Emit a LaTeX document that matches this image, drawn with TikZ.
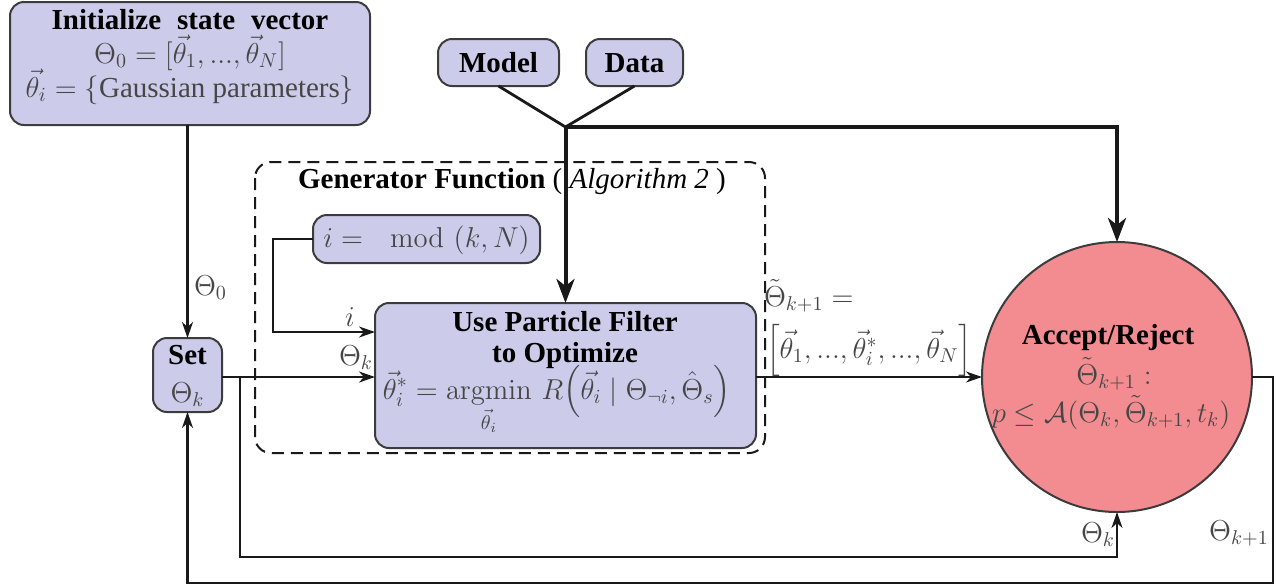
\documentclass[tikz,border=0pt]{standalone}
\usepackage{amsmath,amssymb}
\usepackage[no-math]{fontspec}
\setmainfont{Liberation Serif}
\usetikzlibrary{arrows.meta,calc}
\definecolor{lav}{RGB}{204,204,234}
\definecolor{pinkc}{RGB}{242,140,145}
\definecolor{bordc}{RGB}{60,60,60}
\definecolor{mathc}{RGB}{70,70,70}
\definecolor{linec}{RGB}{25,25,25}
\newcommand\myfs{\fontsize{14.5}{17}\selectfont}
\begin{document}
\begin{tikzpicture}[x=0.5pt,y=-0.5pt,
  every node/.style={font=\myfs, inner sep=0pt, outer sep=0pt},
  box/.style={draw=bordc, line width=1pt, fill=lav, rounded corners=7pt},
  txt/.style={anchor=base, text=black},
  mth/.style={anchor=base, text=mathc},
  conn/.style={line width=1.1pt, draw=linec, -{Stealth[length=8pt,width=5.5pt,inset=2.5pt]}},
  thickconn/.style={line width=2pt, draw=linec, -{Stealth[length=12pt,width=9pt,inset=3.5pt]}},
  thickline/.style={line width=2pt, draw=linec},
  medline/.style={line width=1.4pt, draw=linec},
  dashbox/.style={draw=linec, line width=1pt, dash pattern=on 6pt off 3.5pt, rounded corners=8pt}]
\useasboundingbox (0,0) rectangle (1285,586);

% generator function dashed region
\draw[dashbox] (255,162) rectangle (765,453);
\node[txt] (gtitle) at (512,188) {\textbf{Generator Function} ( \textit{Algorithm 2} )};

% boxes
\node[box, minimum width=180pt, minimum height=61.5pt] (init) at (190,63.5) {};
\node[box, minimum width=60.5pt, minimum height=23.5pt] (model) at (498.5,62.5) {};
\node[box, minimum width=48.5pt, minimum height=23.5pt] (data) at (634.5,62.5) {};
\node[box, minimum width=113.5pt, minimum height=24pt] (mod) at (426.5,239) {};
\node[box, minimum width=190.5pt, minimum height=72.5pt] (pf) at (565.5,375.5) {};
\node[box, minimum width=34.5pt, minimum height=37pt] (set) at (187.5,375) {};
\node[draw=bordc, line width=1pt, fill=pinkc, circle, minimum size=135pt] (acc) at (1117,377) {};

% texts in boxes
\node[txt] (t1) at (190,29) {\textbf{Initialize\hspace{0.55em}state\hspace{0.55em}vector}};
\node[mth] (t2) at (190,63) {$\Theta_0 = [\vec{\theta}_1, ..., \vec{\theta}_N]$};
\node[mth] (t3) at (190,97) {$\vec{\theta}_i = \{\text{Gaussian parameters}\}$};
\node[txt] (tm) at (498.5,72) {\textbf{Model}};
\node[txt] (td) at (634.5,72) {\textbf{Data}};
\node[mth] (tmod) at (426.5,247) {$i = \mod{(k,N)}$};
\node[txt] (tp1) at (565,331) {\textbf{Use Particle Filter}};
\node[txt] (tp2) at (565,362) {\textbf{to Optimize}};
\node[mth] (tp3) at (557,399) {$\displaystyle \vec{\theta}^*_i = \operatorname*{argmin}_{\vec{\theta}_i}\, R\Big(\vec{\theta}_i \mid \Theta_{\neg i}, \hat{\Theta}_s\Big)$};
\node[txt] (ts1) at (187.5,364) {\textbf{Set}};
\node[mth] (ts2) at (187.5,402) {$\Theta_k$};
\node[txt] (ta1) at (1108,344) {\textbf{Accept/Reject}};
\node[mth] (ta2) at (1114,384) {$\tilde{\Theta}_{k+1}:$};
\node[mth] (ta3) at (1111,422) {$p \le \mathcal{A}(\Theta_k, \tilde{\Theta}_{k+1}, t_k)$};

% connector labels
\node[mth, anchor=base west] (l0) at (194,295) {$\Theta_0$};
\node[mth] (li) at (350,326) {$i$};
\node[mth] (lk) at (356,365) {$\Theta_k$};
\node[mth, anchor=base west] (lt1) at (764,306) {$\tilde{\Theta}_{k+1} =$};
\node[mth, anchor=base west] (lt2) at (766,358) {$\Big[\vec{\theta}_1, ..., \vec{\theta}^*_i, ..., \vec{\theta}_N\Big]$};
\node[mth] (lk2) at (1098,542) {$\Theta_k$};
\node[mth] (lk3) at (1239,540) {$\Theta_{k+1}$};

% coordinates
\coordinate (j) at (565.5,127);
\coordinate (ibend) at (273,239);
\coordinate (ibend2) at (273,332);
\coordinate (bx) at (240,557);
\coordinate (rx) at (1273,583);

% connectors
\draw[medline] (model.south) -- (j);
\draw[medline] (data.south) -- (j);
\draw[thickconn] (j) -- (pf.north);
\draw[thickconn] (j) -| (acc.north);
\draw[conn] (init.south -| set.north) -- (set.north);
\draw[conn] (set.east |- acc.west) -- (pf.west |- acc.west);
\draw[conn] (mod.west) -- (ibend) -- (ibend2) -- (pf.west |- ibend2);
\draw[conn] (pf.east |- acc.west) -- (acc.west);
\draw[conn] (set.east |- acc.west) -| (bx) -| (acc.south);
\draw[conn] (acc.east) -| (rx) -| (set.south);
\end{tikzpicture}
\end{document}
